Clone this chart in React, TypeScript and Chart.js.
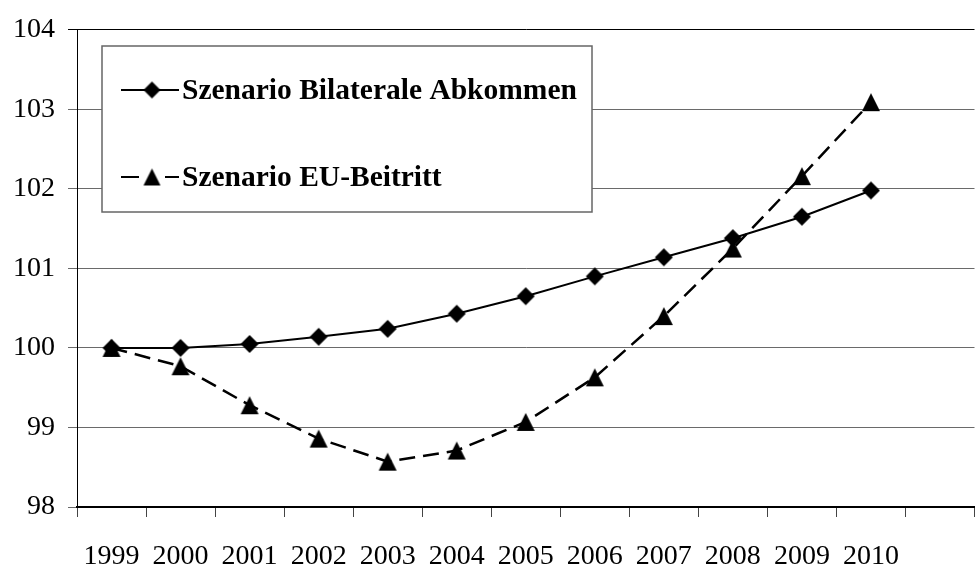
import React, { useEffect, useRef } from "react";
import { Chart, registerables } from "chart.js";

Chart.register(...registerables);

const years = ["1999", "2000", "2001", "2002", "2003", "2004", "2005", "2006", "2007", "2008", "2009", "2010", ""];
const bilateral = [100.0, 100.0, 100.05, 100.14, 100.24, 100.43, 100.65, 100.9, 101.14, 101.38, 101.65, 101.98];
const euBeitritt = [100.0, 99.77, 99.28, 98.86, 98.57, 98.71, 99.07, 99.63, 100.4, 101.25, 102.16, 103.09];
const seriesLabels = ["Szenario Bilaterale Abkommen", "Szenario EU-Beitritt"];
const yMin = 98;
const yMax = 104;

const SERIF = "'Liberation Serif', 'DejaVu Serif', serif";

function makeMarker(kind: "diamond" | "triangle", size: number) {
  const c = document.createElement("canvas");
  c.width = size + 2;
  c.height = size + 2;
  const g = c.getContext("2d")!;
  g.fillStyle = "#000";
  g.beginPath();
  const m = 1;
  const s = size;
  if (kind === "diamond") {
    g.moveTo(m + s / 2, m);
    g.lineTo(m + s, m + s / 2);
    g.lineTo(m + s / 2, m + s);
    g.lineTo(m, m + s / 2);
  } else {
    g.moveTo(m + s / 2, m);
    g.lineTo(m + s, m + s);
    g.lineTo(m, m + s);
  }
  g.closePath();
  g.fill();
  return c;
}

export default function App() {
  const ref = useRef<HTMLCanvasElement | null>(null);

  useEffect(() => {
    const canvas = ref.current!;
    let chart: Chart | null = null;
    let cancelled = false;

    const diamond = makeMarker("diamond", 18);
    const triangle = makeMarker("triangle", 18);
    const legDiamond = makeMarker("diamond", 17);
    const legTriangle = makeMarker("triangle", 17);

    const legendPlugin = {
      id: "boxLegend",
      afterDraw(ch: any) {
        const ctx = ch.ctx;
        const bx = 102, by = 46, bw = 490, bh = 166;
        ctx.save();
        ctx.fillStyle = "#fff";
        ctx.fillRect(bx, by, bw, bh);
        ctx.strokeStyle = "#666";
        ctx.lineWidth = 1.5;
        ctx.strokeRect(bx, by, bw, bh);
        const rows = [90, 177];
        ch.data.datasets.forEach((ds: any, i: number) => {
          const y = rows[i];
          ctx.strokeStyle = ds.borderColor;
          ctx.lineWidth = 2;
          ctx.setLineDash([]);
          ctx.beginPath();
          if (ds.borderDash && ds.borderDash.length) {
            ctx.moveTo(121, y);
            ctx.lineTo(139, y);
            ctx.moveTo(165, y);
            ctx.lineTo(179, y);
          } else {
            ctx.moveTo(121, y);
            ctx.lineTo(179, y);
          }
          ctx.stroke();
          const mk = i === 0 ? legDiamond : legTriangle;
          ctx.drawImage(mk, 152 - mk.width / 2, y - mk.height / 2);
          ctx.fillStyle = "#000";
          ctx.font = `bold 29.5px ${SERIF}`;
          ctx.textBaseline = "middle";
          ctx.textAlign = "left";
          ctx.fillText(ds.label, 182, y + 1);
        });
        ctx.restore();
      },
    };

    const build = () => {
      if (cancelled) return;
      chart = new Chart(canvas, {
        type: "line",
        data: {
          labels: years,
          datasets: [
            {
              label: seriesLabels[0],
              data: bilateral,
              borderColor: "#000",
              backgroundColor: "#000",
              borderWidth: 2,
              pointStyle: diamond as any,
              pointRadius: 9,
              tension: 0,
              fill: false,
            },
            {
              label: seriesLabels[1],
              data: euBeitritt,
              borderColor: "#000",
              backgroundColor: "#000",
              borderWidth: 2.5,
              borderDash: [16, 8],
              pointStyle: triangle as any,
              pointRadius: 9,
              tension: 0,
              fill: false,
            },
          ],
        },
        options: {
          animation: false,
          responsive: false,
          maintainAspectRatio: false,
          layout: { padding: { top: 22, right: 0, left: 0, bottom: 0 } },
          plugins: {
            legend: { display: false },
            tooltip: { enabled: false },
            title: { display: false },
          },
          scales: {
            x: {
              type: "category",
              offset: true,
              grid: {
                offset: true,
                drawOnChartArea: false,
                drawTicks: true,
                tickLength: 10,
                color: "#444",
                lineWidth: 1,
              },
              border: { display: true, color: "#000", width: 2 },
              ticks: {
                font: { family: SERIF, size: 28 },
                color: "#000",
                padding: 23,
                maxRotation: 0,
                autoSkip: false,
              },
              afterFit: (s: any) => {
                s.height = 66;
              },
            },
            y: {
              min: yMin,
              max: yMax,
              ticks: {
                stepSize: 1,
                font: { family: SERIF, size: 28 },
                color: "#000",
                padding: 13,
              },
              grid: {
                color: (c: any) => (c.tick && c.tick.value === yMax ? "#000" : "#6a6a6a"),
                lineWidth: 1,
                tickLength: 9,
                drawTicks: true,
              },
              border: { display: true, color: "#000", width: 1 },
              afterFit: (s: any) => {
                s.width = 77;
              },
            },
          },
        },
        plugins: [legendPlugin],
      });
    };

    const fontsApi: any = (document as any).fonts;
    if (fontsApi && fontsApi.load) {
      Promise.all([
        fontsApi.load("28px 'Liberation Serif'"),
        fontsApi.load("bold 29.5px 'Liberation Serif'"),
      ])
        .catch(() => null)
        .then(build);
    } else {
      build();
    }

    return () => {
      cancelled = true;
      if (chart) chart.destroy();
    };
  }, []);

  return (
    <div
      style={{
        position: "fixed",
        left: 0,
        top: 0,
        width: 975,
        height: 573,
        overflow: "hidden",
        background: "#fff",
      }}
    >
      <canvas ref={ref} width={986} height={573} style={{ display: "block", width: 986, height: 573 }} />
    </div>
  );
}
